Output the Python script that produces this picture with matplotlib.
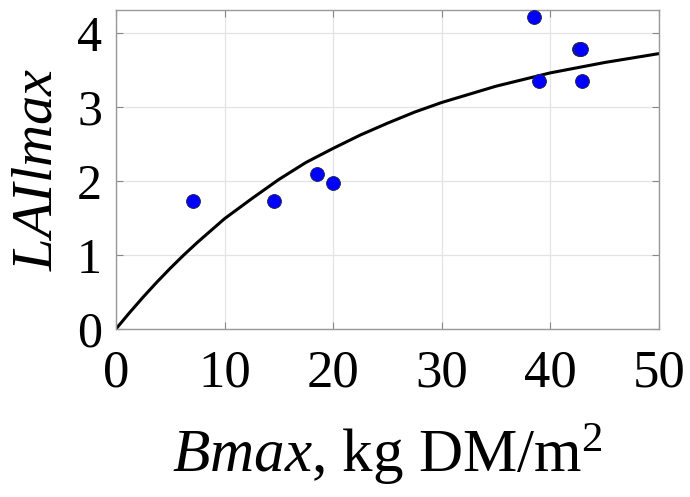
import matplotlib
matplotlib.use("Agg")
import matplotlib.pyplot as plt

# measured points
bmax = [7.06, 14.6, 18.5, 20.0, 38.5, 39.0, 42.6, 42.8, 42.9]
lai = [1.73, 1.73, 2.09, 1.97, 4.22, 3.35, 3.78, 3.78, 3.35]

# fitted curve
curve_x = [0, 1.25, 2.5, 3.75, 5, 6.25, 7.5, 8.75, 10, 12.5, 15, 17.5, 20,
           22.5, 25, 27.5, 30, 32.5, 35, 37.5, 40, 42.5, 45, 47.5, 50]
curve_y = [0, 0.22, 0.43, 0.63, 0.82, 1.00, 1.17, 1.33, 1.49, 1.76, 2.02,
           2.25, 2.44, 2.62, 2.78, 2.93, 3.06, 3.17, 3.28, 3.37, 3.46, 3.53,
           3.60, 3.66, 3.72]

xticks = [0, 10, 20, 30, 40, 50]
yticks = [0, 1, 2, 3, 4]

plt.rcParams['font.family'] = 'Liberation Serif'
plt.rcParams['mathtext.fontset'] = 'custom'
plt.rcParams['mathtext.rm'] = 'Liberation Serif'
plt.rcParams['mathtext.it'] = 'Liberation Serif:italic'

fig = plt.figure(figsize=(6.9, 4.97), dpi=100)
ax = fig.add_axes([0.168, 0.338, 0.787, 0.642])

ax.plot(curve_x, curve_y, color='black', linewidth=2.2, zorder=2)
ax.plot(bmax, lai, 'o', color='#0000ff', markersize=10,
        markeredgecolor='#222244', markeredgewidth=0.6, zorder=3, clip_on=False)

ax.set_xlim(0, 50)
ax.set_ylim(0, 4.31)
ax.set_xticks(xticks)
ax.set_yticks(yticks)
ax.grid(True, color='#e3e3e3', linewidth=0.9)
ax.set_axisbelow(True)
ax.tick_params(direction='in', length=5, width=0.8, color='#888888',
               top=True, right=True)
ax.tick_params(axis='x', labelsize=38, pad=15)
ax.tick_params(axis='y', labelsize=36, pad=10)
for s in ax.spines.values():
    s.set_color('#999999')
    s.set_linewidth(1.0)

ax.set_xlabel(r'$Bmax$, kg DM/m$^2$', fontsize=44, labelpad=18)
ax.set_ylabel(r'$LAIlmax$', fontsize=42, labelpad=10)

fig.savefig('out.png', dpi=100)
